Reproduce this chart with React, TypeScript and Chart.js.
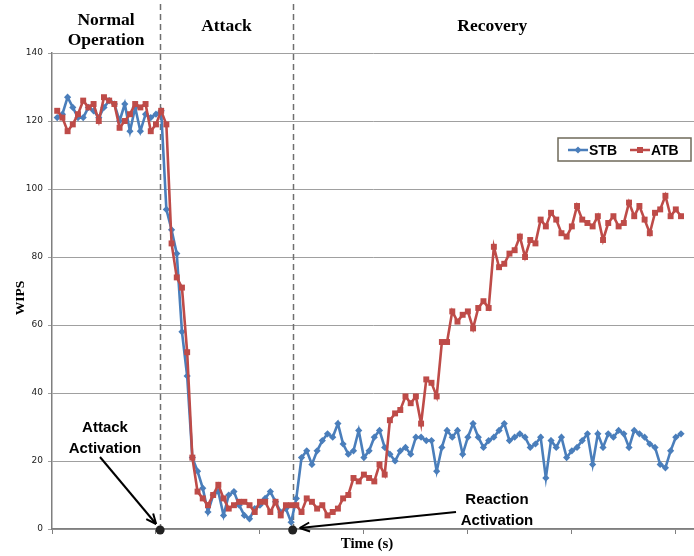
import React, { useEffect, useRef } from "react";
import { Chart, registerables } from "chart.js";

Chart.register(...registerables);

// ---- data ----
const STB: number[] = [
  121, 122, 127, 124, 121, 121, 124, 123, 121, 124, 126, 125, 120, 125, 117, 124, 117, 122, 121, 122, 123,
  94, 88, 81, 58, 45, 21, 17, 12, 5, 10,
  11, 4, 10, 11, 7, 4, 3, 6, 7, 9,
  11, 8, 5, 6, 2, 9, 21, 23, 19, 23,
  26, 28, 27, 31, 25, 22, 23, 29, 21, 23,
  27, 29, 24, 22, 20, 23, 24, 22, 27, 27,
  26, 26, 17, 24, 29, 27, 29, 22, 27, 31,
  27, 24, 26, 27, 29, 31, 26, 27, 28, 27,
  24, 25, 27, 15, 26, 24, 27, 21, 23, 24,
  26, 28, 19, 28, 24, 28, 27, 29, 28, 24,
  29, 28, 27, 25, 24, 19, 18, 23, 27, 28,
];

const ATB: number[] = [
  123, 121, 117, 119, 122, 126, 124, 125, 120, 127, 126, 125, 118, 120, 122, 125, 124, 125, 117, 119, 123,
  119, 84, 74, 71, 52, 21, 11, 9, 7, 10,
  13, 9, 6, 7, 8, 8, 7, 5, 8, 8,
  5, 8, 4, 7, 7, 7, 5, 9, 8, 6,
  7, 4, 5, 6, 9, 10, 15, 14, 16, 15,
  14, 19, 16, 32, 34, 35, 39, 37, 39, 31,
  44, 43, 39, 55, 55, 64, 61, 63, 64, 59,
  65, 67, 65, 83, 77, 78, 81, 82, 86, 80,
  85, 84, 91, 89, 93, 91, 87, 86, 89, 95,
  91, 90, 89, 92, 85, 90, 92, 89, 90, 96,
  92, 95, 91, 87, 93, 94, 98, 92, 94, 92,
];

const SERIES_NAMES = ["STB", "ATB"];
const Y_TICKS = [0, 20, 40, 60, 80, 100, 120, 140];
const X_TICKS = [-1, 19, 39, 59, 79, 99, 119];
const ATTACK_AT = 19.8;
const REACTION_AT = 45.3;
const PHASES = ["Normal|Operation", "Attack", "Recovery"];
const NOTES = ["Attack|Activation", "Reaction|Activation"];
const X_TITLE = "Time (s)";
const Y_TITLE = "WIPS";

const BLUE = "#4a7ebb";
const RED = "#be4b48";

function arrow(ctx: CanvasRenderingContext2D, x1: number, y1: number, x2: number, y2: number) {
  ctx.beginPath();
  ctx.moveTo(x1, y1);
  ctx.lineTo(x2, y2);
  ctx.stroke();
  const a = Math.atan2(y2 - y1, x2 - x1);
  const L = 10, W = 4.5;
  ctx.beginPath();
  ctx.moveTo(x2, y2);
  ctx.lineTo(x2 - L * Math.cos(a) + W * Math.sin(a), y2 - L * Math.sin(a) - W * Math.cos(a));
  ctx.moveTo(x2, y2);
  ctx.lineTo(x2 - L * Math.cos(a) - W * Math.sin(a), y2 - L * Math.sin(a) + W * Math.cos(a));
  ctx.stroke();
}

const underlay = {
  id: "underlay",
  beforeDatasetsDraw(chart: any) {
    const ctx = chart.ctx as CanvasRenderingContext2D;
    const xs = chart.scales.x;
    const area = chart.chartArea;
    ctx.save();
    ctx.strokeStyle = "#6f6f6f";
    ctx.lineWidth = 1.5;
    ctx.setLineDash([6, 4]);
    for (const v of [ATTACK_AT, REACTION_AT]) {
      const px = Math.round(xs.getPixelForValue(v)) + 0.5;
      ctx.beginPath();
      ctx.moveTo(px, 4);
      ctx.lineTo(px, area.bottom);
      ctx.stroke();
    }
    ctx.restore();
  },
};

const overlay = {
  id: "overlay",
  afterDraw(chart: any) {
    const ctx = chart.ctx as CanvasRenderingContext2D;
    const xs = chart.scales.x;
    const area = chart.chartArea;
    const ax = xs.getPixelForValue(ATTACK_AT);
    const rx = xs.getPixelForValue(REACTION_AT);
    ctx.save();

    // phase headers
    ctx.fillStyle = "#000";
    ctx.textAlign = "center";
    ctx.textBaseline = "alphabetic";
    ctx.font = "bold 17.5px 'Liberation Serif', 'Times New Roman', serif";
    const centers = [(area.left + ax) / 2, (ax + rx) / 2, (rx + area.right) / 2 - 1];
    PHASES.forEach((p, i) => {
      const lines = p.split("|");
      if (lines.length === 2) {
        ctx.fillText(lines[0], centers[i], 25);
        ctx.fillText(lines[1], centers[i], 45);
      } else {
        ctx.fillText(lines[0], centers[i], 31);
      }
    });

    // axis titles
    ctx.font = "bold 15px 'Liberation Serif', 'Times New Roman', serif";
    ctx.fillText(X_TITLE, 367, 548);
    ctx.save();
    ctx.translate(24, 298);
    ctx.rotate(-Math.PI / 2);
    ctx.font = "bold 13.5px 'Liberation Serif', 'Times New Roman', serif";
    ctx.fillText(Y_TITLE, 0, 0);
    ctx.restore();

    // activation dots
    ctx.fillStyle = "#222";
    for (const px of [ax, rx]) {
      ctx.beginPath();
      ctx.arc(px, area.bottom + 1, 4.5, 0, Math.PI * 2);
      ctx.fill();
    }

    // arrows
    ctx.strokeStyle = "#000";
    ctx.lineWidth = 2;
    arrow(ctx, 100, 457, ax - 4, area.bottom - 5);
    arrow(ctx, 456, 512, rx + 7, area.bottom - 1);

    // notes
    ctx.fillStyle = "#000";
    ctx.font = "bold 15px 'Liberation Sans', Arial, sans-serif";
    const n1 = NOTES[0].split("|");
    ctx.fillText(n1[0], 105, 432);
    ctx.fillText(n1[1], 105, 453);
    const n2 = NOTES[1].split("|");
    ctx.fillText(n2[0], 497, 504);
    ctx.fillText(n2[1], 497, 525);

    // legend
    ctx.fillStyle = "#fff";
    ctx.fillRect(558, 138, 133, 23);
    ctx.strokeStyle = "#6f6a5a";
    ctx.lineWidth = 1.5;
    ctx.strokeRect(558, 138, 133, 23);
    const ly = 150;
    // STB
    ctx.strokeStyle = BLUE;
    ctx.lineWidth = 2.5;
    ctx.beginPath();
    ctx.moveTo(568, ly);
    ctx.lineTo(588, ly);
    ctx.stroke();
    ctx.fillStyle = BLUE;
    ctx.beginPath();
    ctx.moveTo(578, ly - 3.5);
    ctx.lineTo(581.5, ly);
    ctx.lineTo(578, ly + 3.5);
    ctx.lineTo(574.5, ly);
    ctx.closePath();
    ctx.fill();
    // ATB
    ctx.strokeStyle = RED;
    ctx.beginPath();
    ctx.moveTo(630, ly);
    ctx.lineTo(650, ly);
    ctx.stroke();
    ctx.fillStyle = RED;
    ctx.fillRect(637, ly - 3, 6, 6);
    ctx.fillStyle = "#000";
    ctx.textAlign = "left";
    ctx.textBaseline = "middle";
    ctx.font = "bold 14px 'Liberation Sans', Arial, sans-serif";
    ctx.fillText(SERIES_NAMES[0], 589, ly + 1);
    ctx.fillText(SERIES_NAMES[1], 651, ly + 1);

    ctx.restore();
  },
};

export default function App() {
  const ref = useRef<HTMLCanvasElement | null>(null);

  useEffect(() => {
    if (!ref.current) return;
    const chart = new Chart(ref.current, {
      type: "line",
      data: {
        datasets: [
          {
            label: SERIES_NAMES[1],
            data: ATB.map((v, i) => ({ x: i, y: v })),
            borderColor: RED,
            backgroundColor: RED,
            borderWidth: 2.6,
            pointStyle: "rect",
            pointRadius: 4.2,
            pointBorderWidth: 0,
            tension: 0,
          },
          {
            label: SERIES_NAMES[0],
            data: STB.map((v, i) => ({ x: i, y: v })),
            borderColor: BLUE,
            backgroundColor: BLUE,
            borderWidth: 2.6,
            pointStyle: "rectRot",
            pointRadius: 3.6,
            pointBorderWidth: 0,
            tension: 0,
          },
        ],
      },
      options: {
        responsive: false,
        animation: false,
        devicePixelRatio: 1,
        layout: { autoPadding: false, padding: { left: 0, top: 53, right: 0, bottom: 22 } },
        plugins: { legend: { display: false }, tooltip: { enabled: false } },
        scales: {
          x: {
            type: "linear",
            min: -1,
            max: 122.5,
            afterBuildTicks: (s: any) => {
              s.ticks = X_TICKS.map((v) => ({ value: v }));
            },
            afterFit: (s: any) => {
              s.height = 5;
            },
            grid: { drawOnChartArea: false, drawTicks: true, tickLength: 5, color: "#7f7f7f" },
            border: { display: true, color: "#7f7f7f", width: 1.5 },
            ticks: { display: false },
          },
          y: {
            min: 0,
            max: 140,
            afterBuildTicks: (s: any) => {
              s.ticks = Y_TICKS.map((v) => ({ value: v }));
            },
            afterFit: (s: any) => {
              s.width = 52;
            },
            grid: { color: "#a0a0a0", lineWidth: 1, tickLength: 4 },
            border: { display: true, color: "#7f7f7f", width: 1.5 },
            ticks: {
              padding: 5,
              color: "#222",
              font: { family: "'DejaVu Sans', sans-serif", size: 9 },
            },
          },
        },
      },
      plugins: [underlay, overlay],
    });
    return () => chart.destroy();
  }, []);

  return (
    <div style={{ position: "absolute", left: 0, top: 0, width: 694, height: 556, background: "#fff" }}>
      <canvas ref={ref} width={694} height={556} />
    </div>
  );
}
